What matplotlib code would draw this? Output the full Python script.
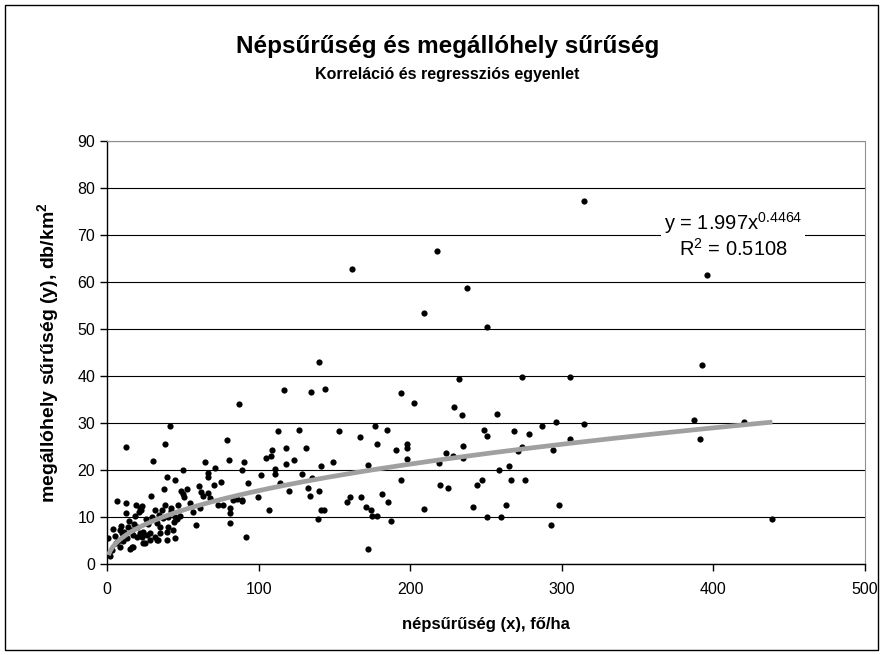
import numpy as np
import matplotlib
matplotlib.use("Agg")
import matplotlib.pyplot as plt
from matplotlib.patches import Rectangle

plt.rcParams['font.family'] = ['Liberation Sans', 'DejaVu Sans']
plt.rcParams['mathtext.fontset'] = 'custom'
plt.rcParams['mathtext.rm'] = 'Liberation Sans'
plt.rcParams['mathtext.bf'] = 'Liberation Sans:bold'

# DATA
# népsűrűség (fő/ha)
nepsuruseg = [
    0.9, 1.1, 2.0, 3.0, 4.2, 5.5, 6.8, 7.5, 8.6, 8.6, 10.0, 10.8, 11.2, 12.5, 12.5,
    12.5, 13.0, 14.1, 15.0, 16.3, 16.3, 17.4, 17.3, 18.5, 19.1, 19.6, 20.9, 21.8,
    22.0, 22.5, 23.0, 22.9, 24.0, 24.0, 25.1, 26.2, 27.0, 28.4, 28.4, 29.0, 30.1,
    30.0, 31.7, 31.7, 32.8, 33.9, 34.0, 35.0, 35.0, 36.3, 37.6, 38.5, 38.0, 39.4,
    39.4, 39.4, 40.0, 40.5, 41.6, 42.0, 43.8, 44.0, 44.9, 44.9, 45.0, 46.0, 48.0,
    49.0, 50.0, 51.0, 49.9, 53.0, 59.0, 61.0, 62.0, 63.0, 61.3, 64.4, 66.3, 66.5,
    66.8, 70.6, 73.0, 76.5, 79.0, 80.7, 81.0, 81.0, 81.0, 83.0, 86.0, 89.0, 87.3,
    88.8, 89.0, 90.4, 92.0, 93.0, 99.6,
    6.0, 9.5, 14.5, 18.0, 20.0, 26.0, 33.0, 37.0, 42.5, 47.0, 55.0, 57.0, 68.0,
    71.0, 75.0,
    101.8, 105.0, 106.9, 108.0, 108.8, 111.0, 111.0, 113.0, 114.1, 117.0, 118.3,
    118.3, 120.3, 123.4, 126.4, 128.4, 131.5, 132.8, 133.7, 134.6, 135.0, 139.0,
    139.8, 139.8, 141.0, 143.0, 141.0, 144.0, 149.3, 153.2, 158.3, 160.5, 161.6,
    166.9, 167.7, 170.8, 172.0, 172.0, 174.0, 175.0, 177.0, 178.1, 178.0, 181.4,
    184.5, 185.6, 187.5, 190.6, 193.7, 193.7, 197.9, 197.9, 197.9, 202.7, 209.1,
    209.1, 217.5, 219.2, 219.7,
    223.6, 224.7, 228.4, 228.9, 232.0, 234.2, 235.0, 235.0, 237.3, 241.2, 244.3,
    247.4, 248.7, 250.9, 250.9, 250.9, 257.0, 258.8, 259.9, 263.2, 265.2, 266.3,
    268.3, 271.3, 273.5, 273.5, 275.5, 278.6, 287.0, 293.1, 294.0, 296.2, 298.4,
    305.4, 305.4, 314.6, 314.9,
    387.2, 391.2, 392.3, 395.6, 420.2, 438.9,
]
# megállóhely sűrűség (db/km2)
megallo_suruseg = [
    5.5, 2.3, 1.8, 3.0, 7.4, 6.0, 13.5, 5.0, 7.3, 3.7, 6.5, 4.8, 6.9, 10.9, 13.0,
    24.9, 5.5, 7.8, 3.2, 7.3, 3.6, 6.2, 3.7, 10.2, 12.6, 5.8, 11.0, 6.5,
    12.0, 11.5, 12.3, 5.8, 6.9, 4.4, 4.4, 6.2, 8.5, 6.5, 5.1, 14.5, 22.0,
    10.0, 5.8, 11.5, 5.1, 5.1, 10.5, 6.5, 7.9, 11.5, 16.0, 25.6, 12.5, 6.9,
    5.1, 18.5, 10.0, 7.9, 29.3, 12.0, 7.2, 9.0, 17.9, 5.5, 10.0, 9.5, 10.3,
    15.5, 14.8, 14.2, 19.9, 16.0, 8.2, 16.5, 15.3, 14.5, 12.0, 21.6, 19.3, 18.5,
    15.1, 16.9, 12.5, 12.5, 26.3, 22.2, 11.9, 10.9, 8.8, 13.7, 13.8, 13.7, 34.0,
    13.5, 19.9, 21.6, 5.8, 17.3, 14.2,
    4.5, 8.0, 9.2, 8.5, 7.8, 9.5, 8.8, 9.8, 11.2, 12.5, 13.0, 11.0, 14.0,
    20.5, 17.5,
    18.9, 22.6, 11.5, 22.9, 24.2, 20.3, 19.2, 28.3, 17.3, 37.0, 24.6,
    21.2, 15.6, 22.2, 28.6, 19.2, 24.6, 16.2, 14.5, 36.7, 18.3, 9.5,
    43.0, 15.6, 11.5, 11.5, 20.9, 37.3, 21.6, 28.3, 13.2, 14.2, 62.8,
    27.0, 14.2, 12.2, 21.0, 3.2, 11.5, 10.3, 29.3, 25.6, 10.3, 14.9,
    28.6, 13.2, 9.2, 24.2, 36.3, 17.9, 25.6, 24.6, 22.3, 34.3, 53.4,
    11.8, 66.5, 21.5, 16.9,
    23.6, 16.2, 22.9, 33.3, 39.3, 31.7, 25.2, 22.5, 58.8, 12.2, 16.9,
    17.9, 28.6, 27.2, 50.4, 9.9, 32.0, 19.9, 9.9, 12.5, 20.9, 17.9,
    28.3, 24.0, 24.9, 39.7, 17.9, 27.6, 29.3, 8.2, 24.2, 30.3, 12.5,
    39.7, 26.6, 77.2, 29.7,
    30.6, 26.6, 42.3, 61.4, 30.2, 9.5,
]

# power trendline from the chart: y = 1.997 x^0.4464
trend_a = 1.997
trend_b = 0.4464
r2 = 0.5108

x = np.array(nepsuruseg)
y = np.array(megallo_suruseg)

fig = plt.figure(figsize=(8.83, 6.55), dpi=100)
ax = fig.add_axes([107 / 883, 1 - 564 / 655, (865 - 107) / 883, (564 - 141) / 655])

# outer chart frame
fig.patches.append(Rectangle((5 / 883, 5 / 655), 873 / 883, 645 / 655,
                             transform=fig.transFigure, fill=False,
                             edgecolor='black', linewidth=1.0))

ax.scatter(x, y, s=20, color='black', zorder=3, linewidths=0)

xt = np.linspace(x.min(), x.max(), 300)
ax.plot(xt, trend_a * xt ** trend_b, color='#a0a0a0', linewidth=3.4,
        solid_capstyle='butt', zorder=4)

ax.set_xlim(0, 500)
ax.set_ylim(0, 90)
ax.set_xticks(range(0, 501, 100))
ax.set_yticks(range(0, 91, 10))
ax.grid(axis='y', color='black', linewidth=0.8)
ax.set_axisbelow(True)

for side in ['top', 'right']:
    ax.spines[side].set_color('#909090')
for side in ['left', 'bottom']:
    ax.spines[side].set_color('black')
    ax.spines[side].set_linewidth(1.0)

ax.tick_params(axis='both', direction='out', length=5, width=1, labelsize=11.5,
               colors='black')
ax.tick_params(axis='x', pad=8)

ax.set_xlabel('népsűrűség (x), fő/ha', fontsize=12, fontweight='bold', labelpad=14)
ax.set_ylabel(r'megállóhely sűrűség (y), db/km$^{\mathbf{2}}$', fontsize=14,
              fontweight='bold', labelpad=11)

fig.text(0.507, 1 - 47 / 655, 'Népsűrűség és megállóhely sűrűség', ha='center',
         va='center', fontsize=17.5, fontweight='bold')
fig.text(0.507, 1 - 74 / 655, 'Korreláció és regressziós egyenlet', ha='center',
         va='center', fontsize=11.5, fontweight='bold')

eq = 'y = %.3fx$^{%.4f}$\nR$^{2}$ = %.4f' % (trend_a, trend_b, r2)
ax.text(413, 70, eq, ha='center', va='center', fontsize=14.5, linespacing=1.1,
        zorder=5, bbox=dict(facecolor='white', edgecolor='none', pad=2))

fig.savefig('out.png', dpi=100)
